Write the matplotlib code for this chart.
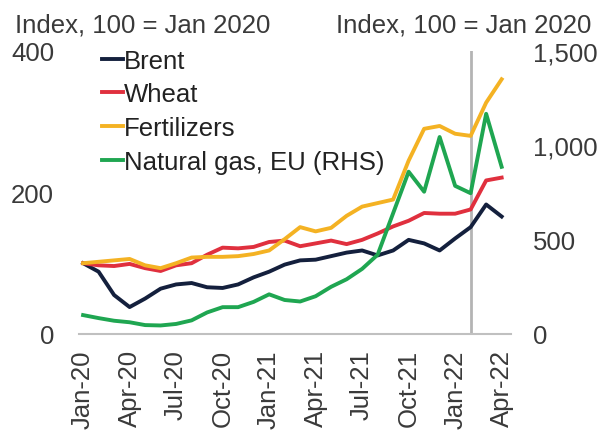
import matplotlib
matplotlib.use("Agg")
import matplotlib.pyplot as plt
import numpy as np

plt.rcParams['font.family'] = ['Liberation Sans', 'DejaVu Sans']

# monthly values, Jan-20 .. Apr-22 (index, 100 = Jan 2020)
months = ['Jan-20', 'Feb-20', 'Mar-20', 'Apr-20', 'May-20', 'Jun-20', 'Jul-20', 'Aug-20',
          'Sep-20', 'Oct-20', 'Nov-20', 'Dec-20', 'Jan-21', 'Feb-21', 'Mar-21', 'Apr-21',
          'May-21', 'Jun-21', 'Jul-21', 'Aug-21', 'Sep-21', 'Oct-21', 'Nov-21', 'Dec-21',
          'Jan-22', 'Feb-22', 'Mar-22', 'Apr-22']
brent = [100, 88, 55, 38, 50, 64, 70, 72, 66, 65, 70, 80, 88, 98,
         104, 105, 110, 115, 118, 111, 118, 133, 128, 118, 135, 151, 183, 166]
wheat = [100, 97, 96, 99, 93, 89, 97, 100, 112, 122, 121, 123, 130, 132,
         124, 128, 132, 127, 133, 142, 152, 160, 171, 170, 170, 176, 217, 221]
fertilizers = [100, 102, 104, 106, 97, 93, 100, 108, 109, 109, 110, 113, 118, 134,
               151, 145, 150, 167, 180, 185, 190, 245, 290, 294, 283, 280, 327, 360]
gas_eu = [100, 84, 70, 62, 47, 45, 53, 72, 114, 142, 142, 170, 210, 180,
          172, 200, 250, 290, 345, 420, 640, 860, 754, 1044, 785, 746, 1167, 886]
tick_labels = months[::3]
war_month = 'Feb-22'

x = np.arange(len(months))
text_col = '#3a3a3a'

fig = plt.figure(figsize=(5.99, 4.35), dpi=100)
ax = fig.add_axes([0.132, 0.23, 0.721, 0.6505])
ax2 = ax.twinx()

ax.axvline(months.index(war_month), color='#b4b4b4', lw=2, zorder=0)
l1, = ax.plot(x, brent, color='#14203d', lw=2.8, label='Brent')
l2, = ax.plot(x, wheat, color='#e0303e', lw=2.8, label='Wheat')
l3, = ax.plot(x, fertilizers, color='#f4b223', lw=2.8, label='Fertilizers')
l4, = ax2.plot(x, gas_eu, color='#1fa651', lw=2.8, label='Natural gas, EU (RHS)')

ax.set_xlim(-0.26, 27.6)
ax.set_ylim(0, 400)
ax2.set_ylim(0, 1500)
ax.set_yticks([0, 200, 400])
ax2.set_yticks([0, 500, 1000, 1500])
ax2.set_yticklabels(['0', '500', '1,000', '1,500'])
ax.set_xticks(x[::3])
ax.set_xticklabels(tick_labels, rotation=90)

for a in (ax, ax2):
    for s in a.spines.values():
        s.set_visible(False)
    a.tick_params(length=0, labelsize=18.5, colors=text_col)
ax.spines['bottom'].set_visible(True)
ax.spines['bottom'].set_color('#c0c0c0')
ax.spines['bottom'].set_linewidth(1.5)
ax.tick_params(axis='y', pad=18)
ax.tick_params(axis='x', pad=11)
ax2.tick_params(axis='y', pad=16)

fig.text(0.025, 0.925, 'Index, 100 = Jan 2020', fontsize=18.5, color=text_col, va='baseline')
fig.text(0.987, 0.925, 'Index, 100 = Jan 2020', fontsize=18.5, color=text_col,
         va='baseline', ha='right')

leg = ax.legend(handles=[l1, l2, l3, l4], loc='upper left', bbox_to_anchor=(0.03, 1.045),
                frameon=False, fontsize=18.5, handlelength=0.8, handletextpad=0.05,
                labelspacing=0.38, borderaxespad=0)
for t in leg.get_texts():
    t.set_color('#222222')

fig.savefig('out.png', dpi=100)
